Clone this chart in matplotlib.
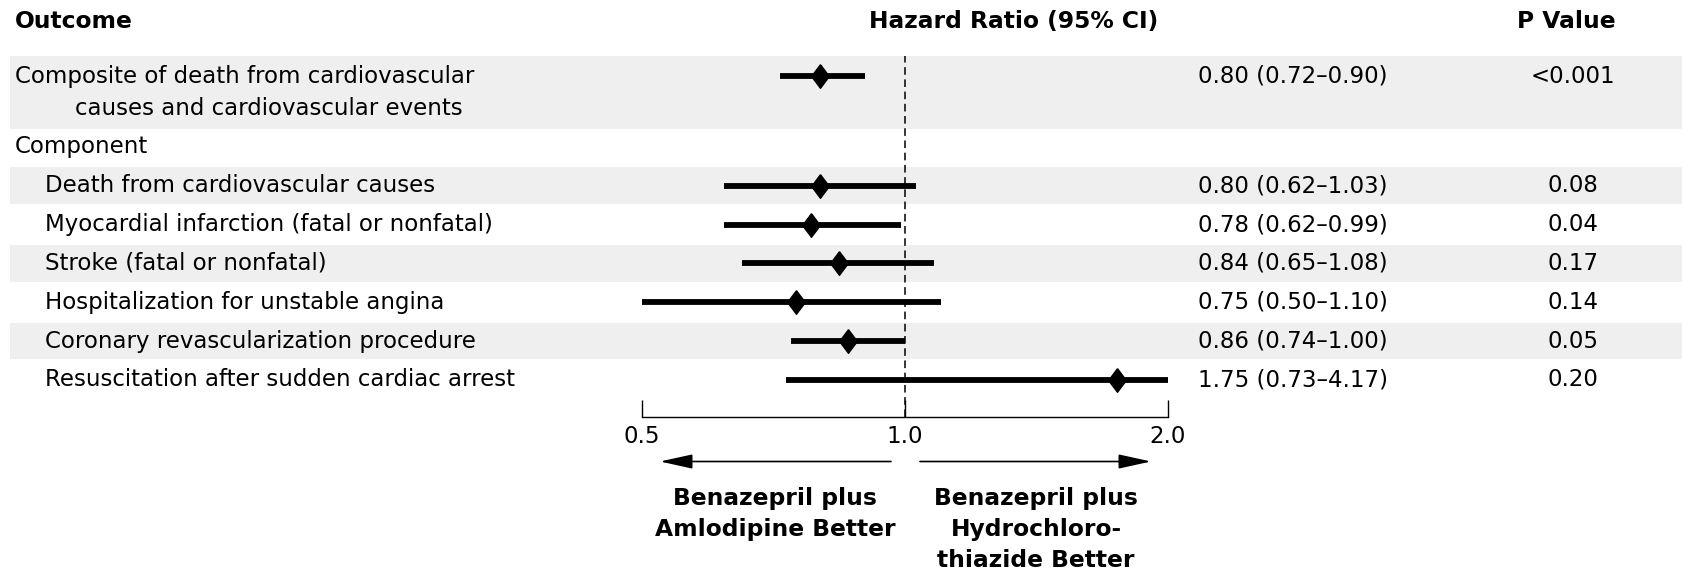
import matplotlib
matplotlib.use("Agg")
import matplotlib.pyplot as plt
import matplotlib.transforms as mtransforms
from matplotlib.patches import Rectangle

plt.rcParams["font.family"] = ["DejaVu Sans"]

# data
composite_label = ["Composite of death from cardiovascular", "causes and cardiovascular events"]
composite_hr = 0.80
composite_lo = 0.72
composite_hi = 0.90
composite_p = "<0.001"

outcomes = [
    "Death from cardiovascular causes",
    "Myocardial infarction (fatal or nonfatal)",
    "Stroke (fatal or nonfatal)",
    "Hospitalization for unstable angina",
    "Coronary revascularization procedure",
    "Resuscitation after sudden cardiac arrest",
]
hr = [0.80, 0.78, 0.84, 0.75, 0.86, 1.75]
ci_lo = [0.62, 0.62, 0.65, 0.50, 0.74, 0.73]
ci_hi = [1.03, 0.99, 1.08, 1.10, 1.00, 4.17]
p_values = ["0.08", "0.04", "0.17", "0.14", "0.05", "0.20"]
x_ticks = [0.5, 1.0, 2.0]
x_tick_labels = ["0.5", "1.0", "2.0"]

W, H = 1683, 575
fig = plt.figure(figsize=(W / 100, H / 100), dpi=100)
fig.patch.set_facecolor("white")

ax = fig.add_axes([642 / W, 1 - 416.5 / H, 526 / W, 416.5 / H])
ax.set_xscale("log")
ax.set_xlim(0.5, 2.0)
ax.set_ylim(-0.94, 9.78)
ax.patch.set_alpha(0)

FS = 16.5
FSB = 16.8
band = "#efefef"
trans = mtransforms.blended_transform_factory(fig.transFigure, ax.transData)
diamond = [(0, 1), (0.75, 0), (0, -1), (-0.75, 0), (0, 1)]


def fx(px):
    return px / W


# shaded bands, drawn under everything
def add_band(y0, y1):
    r = Rectangle((fx(10), y0), 1 - fx(10), y1 - y0, transform=trans,
                  facecolor=band, edgecolor="none", zorder=-10, clip_on=False)
    ax.add_patch(r)


comp_y = 7.82
row_y = [5, 4, 3, 2, 1, 0]
add_band(6.46, 8.34)
for i, y in enumerate(row_y):
    if i % 2 == 0:
        add_band(y - 0.47, y + 0.47)

# reference line
ax.plot([1.0, 1.0], [-0.94, 8.34], color="black", lw=1.1, linestyle=(0, (5, 3)), zorder=2, clip_on=False)

# intervals
ax.plot([composite_lo, composite_hi], [comp_y, comp_y], color="black", lw=4.2, solid_capstyle="butt", zorder=3)
ax.plot([composite_hr], [comp_y], marker=diamond, color="black", markersize=17, zorder=4)
for y, h, lo, hi in zip(row_y, hr, ci_lo, ci_hi):
    ax.plot([lo, hi], [y, y], color="black", lw=4.2, solid_capstyle="butt", zorder=3)
    ax.plot([h], [y], marker=diamond, color="black", markersize=17, zorder=4)

# axis styling
for s in ["top", "left", "right"]:
    ax.spines[s].set_visible(False)
ax.spines["bottom"].set_linewidth(1.0)
ax.set_yticks([])
ax.set_xticks(x_ticks)
ax.set_xticklabels(x_tick_labels, fontsize=FS)
ax.xaxis.set_minor_locator(matplotlib.ticker.NullLocator())
ax.tick_params(axis="x", direction="in", length=12, width=1.0, pad=6)

# headers
header_y = 9.23
ax.text(fx(15), header_y, "Outcome", transform=trans, fontsize=FSB, fontweight="bold", va="center", ha="left")
ax.text(fx(1014), header_y, "Hazard Ratio (95% CI)", transform=trans, fontsize=FSB, fontweight="bold",
        va="center", ha="center")
ax.text(fx(1566), header_y, "P Value", transform=trans, fontsize=FSB, fontweight="bold", va="center", ha="center")

# composite row
ax.text(fx(15), comp_y, composite_label[0], transform=trans, fontsize=FS, va="center", ha="left")
ax.text(fx(75), 6.99, composite_label[1], transform=trans, fontsize=FS, va="center", ha="left")
ax.text(fx(1198), comp_y, f"{composite_hr:.2f} ({composite_lo:.2f}\u2013{composite_hi:.2f})",
        transform=trans, fontsize=FS, va="center", ha="left")
ax.text(fx(1573), comp_y, composite_p, transform=trans, fontsize=FS, va="center", ha="center")

ax.text(fx(15), 6.02, "Component", transform=trans, fontsize=FS, va="center", ha="left")

for y, name, h, lo, hi, p in zip(row_y, outcomes, hr, ci_lo, ci_hi, p_values):
    ax.text(fx(45), y, name, transform=trans, fontsize=FS, va="center", ha="left")
    ax.text(fx(1198), y, f"{h:.2f} ({lo:.2f}\u2013{hi:.2f})", transform=trans, fontsize=FS,
            va="center", ha="left")
    ax.text(fx(1573), y, p, transform=trans, fontsize=FS, va="center", ha="center")

# direction arrows
arrow_y = 1 - 461.5 / H
for x0, x1 in [(891, 660), (920, 1151)]:
    ax.annotate("", xy=(fx(x1), arrow_y), xytext=(fx(x0), arrow_y), xycoords="figure fraction",
                textcoords="figure fraction",
                arrowprops=dict(arrowstyle="-|>,head_length=1.0,head_width=0.22", color="black", lw=1.2,
                                mutation_scale=20, shrinkA=0, shrinkB=0))

label_top = 1 - 487 / H
fig.text(fx(775), label_top, "Benazepril plus\nAmlodipine Better", fontsize=FSB, fontweight="bold",
         ha="center", va="top", linespacing=1.45)
fig.text(fx(1036), label_top, "Benazepril plus\nHydrochloro-\nthiazide Better", fontsize=FSB,
         fontweight="bold", ha="center", va="top", linespacing=1.45)

fig.savefig("out.png", dpi=100, facecolor="white")
